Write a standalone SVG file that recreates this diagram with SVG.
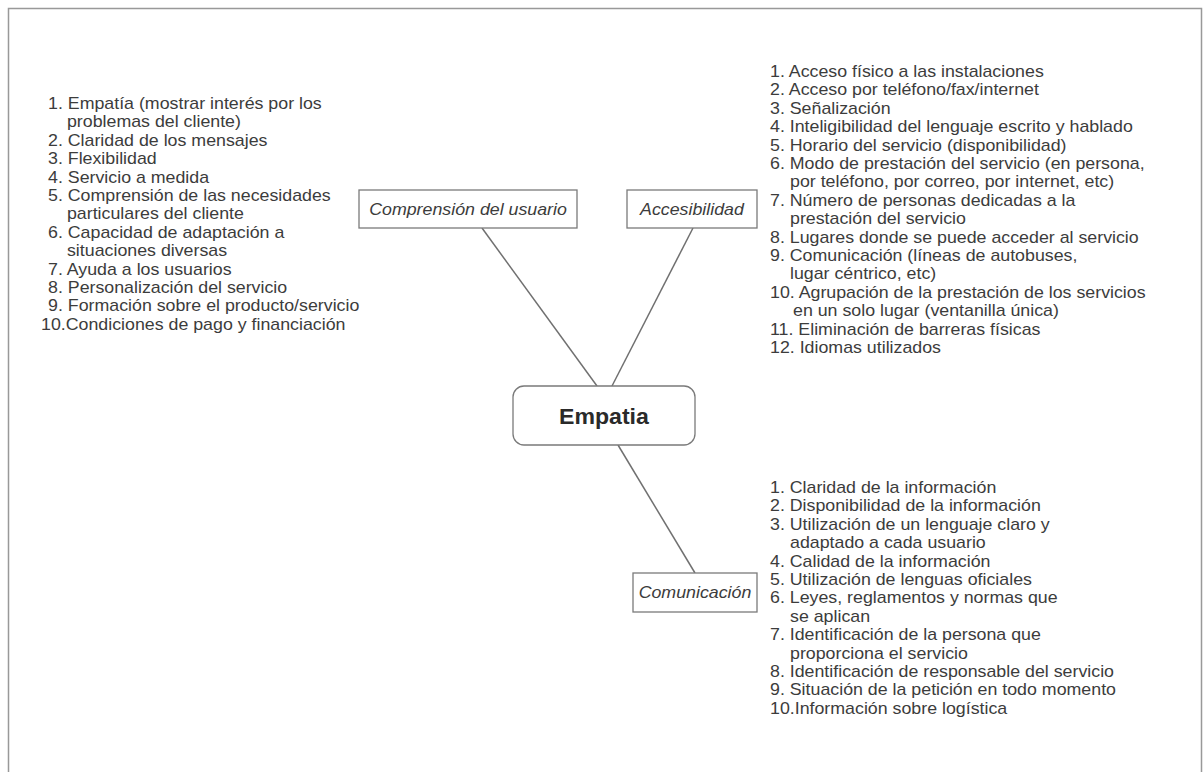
<svg xmlns="http://www.w3.org/2000/svg" width="1203" height="772" viewBox="0 0 1203 772">
<style>
.t{font-family:"Liberation Sans",Arial,sans-serif;font-size:16px;fill:#3c3c3c}
.lab{font-family:"Liberation Sans",Arial,sans-serif;font-size:16px;font-style:italic;fill:#3c3c3c;text-anchor:middle}
.title{font-family:"Liberation Sans",Arial,sans-serif;font-size:22px;font-weight:bold;fill:#2a2a2a;text-anchor:middle}
.box{fill:#fff;stroke:#7a7a7a;stroke-width:1.3}
.con{stroke:#707070;stroke-width:1.5;fill:none}
</style>
<rect width="1203" height="772" fill="#fff"/>
<path d="M8.5,772 V8.5 H1201.5 V772" fill="none" stroke="#999" stroke-width="1.5"/>
<g id="connectors">
<line class="con" x1="482" y1="228" x2="597" y2="386"/>
<line class="con" x1="693" y1="228" x2="612" y2="386"/>
<line class="con" x1="618" y1="445" x2="695" y2="573"/>
</g>
<g id="node-empatia">
<rect class="box" x="513" y="386" width="182" height="59" rx="11"/>
<text class="title" transform="scale(1.05,1)" x="575.2" y="424">Empatia</text>
</g>
<g id="node-comprension">
<rect class="box" x="359" y="190" width="218" height="38"/>
<text class="lab" transform="scale(1.1125,1)" x="420.7" y="215">Comprensión del usuario</text>
</g>
<g id="node-accesibilidad">
<rect class="box" x="627" y="190" width="130" height="38"/>
<text class="lab" transform="scale(1.1125,1)" x="622" y="215">Accesibilidad</text>
</g>
<g id="node-comunicacion">
<rect class="box" x="633" y="573" width="124" height="39"/>
<text class="lab" transform="scale(1.1125,1)" x="624.7" y="598">Comunicación</text>
</g>
<g id="list-comprension" transform="scale(1.1125,1)">
<text class="t" x="43.15" y="109">1. Empatía (mostrar interés por los</text>
<text class="t" x="60.22" y="127.4">problemas del cliente)</text>
<text class="t" x="43.15" y="145.8">2. Claridad de los mensajes</text>
<text class="t" x="43.15" y="164.2">3. Flexibilidad</text>
<text class="t" x="43.15" y="182.6">4. Servicio a medida</text>
<text class="t" x="43.15" y="201">5. Comprensión de las necesidades</text>
<text class="t" x="60.22" y="219.4">particulares del cliente</text>
<text class="t" x="43.15" y="237.8">6. Capacidad de adaptación a</text>
<text class="t" x="60.22" y="256.2">situaciones diversas</text>
<text class="t" x="43.15" y="274.6">7. Ayuda a los usuarios</text>
<text class="t" x="43.15" y="293">8. Personalización del servicio</text>
<text class="t" x="43.15" y="311.4">9. Formación sobre el producto/servicio</text>
<text class="t" x="36.85" y="329.8">10.Condiciones de pago y financiación</text>
</g>
<g id="list-accesibilidad" transform="scale(1.1125,1)">
<text class="t" x="692.13" y="77">1. Acceso físico a las instalaciones</text>
<text class="t" x="692.13" y="95.4">2. Acceso por teléfono/fax/internet</text>
<text class="t" x="692.13" y="113.8">3. Señalización</text>
<text class="t" x="692.13" y="132.2">4. Inteligibilidad del lenguaje escrito y hablado</text>
<text class="t" x="692.13" y="150.6">5. Horario del servicio (disponibilidad)</text>
<text class="t" x="692.13" y="169">6. Modo de prestación del servicio (en persona,</text>
<text class="t" x="710.11" y="187.4">por teléfono, por correo, por internet, etc)</text>
<text class="t" x="692.13" y="205.8">7. Número de personas dedicadas a la</text>
<text class="t" x="710.11" y="224.2">prestación del servicio</text>
<text class="t" x="692.13" y="242.6">8. Lugares donde se puede acceder al servicio</text>
<text class="t" x="692.13" y="261">9. Comunicación (líneas de autobuses,</text>
<text class="t" x="710.11" y="279.4">lugar céntrico, etc)</text>
<text class="t" x="692.13" y="297.8">10. Agrupación de la prestación de los servicios</text>
<text class="t" x="712.81" y="316.2">en un solo lugar (ventanilla única)</text>
<text class="t" x="692.13" y="334.6">11. Eliminación de barreras físicas</text>
<text class="t" x="692.13" y="353">12. Idiomas utilizados</text>
</g>
<g id="list-comunicacion" transform="scale(1.1125,1)">
<text class="t" x="692.13" y="493">1. Claridad de la información</text>
<text class="t" x="692.13" y="511.4">2. Disponibilidad de la información</text>
<text class="t" x="692.13" y="529.8">3. Utilización de un lenguaje claro y</text>
<text class="t" x="710.11" y="548.2">adaptado a cada usuario</text>
<text class="t" x="692.13" y="566.6">4. Calidad de la información</text>
<text class="t" x="692.13" y="585">5. Utilización de lenguas oficiales</text>
<text class="t" x="692.13" y="603.4">6. Leyes, reglamentos y normas que</text>
<text class="t" x="710.11" y="621.8">se aplican</text>
<text class="t" x="692.13" y="640.2">7. Identificación de la persona que</text>
<text class="t" x="710.11" y="658.6">proporciona el servicio</text>
<text class="t" x="692.13" y="677">8. Identificación de responsable del servicio</text>
<text class="t" x="692.13" y="695.4">9. Situación de la petición en todo momento</text>
<text class="t" x="692.13" y="713.8">10.Información sobre logística</text>
</g>
</svg>
